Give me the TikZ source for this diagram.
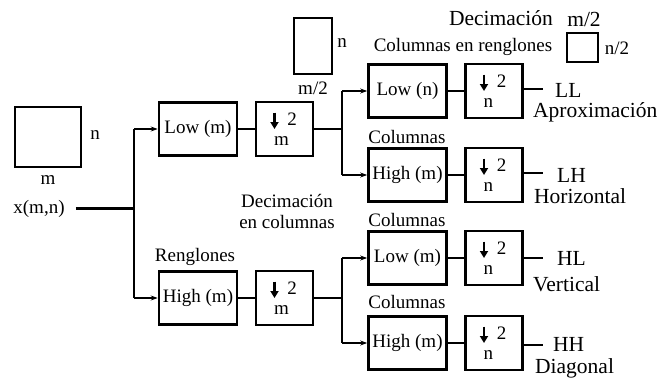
\documentclass[tikz,border=0pt]{standalone}
\usepackage{fontspec}
\setmainfont{Liberation Serif}
\usetikzlibrary{arrows.meta}
\newcommand\lbl{\fontsize{19}{21}\selectfont}
\newcommand\biglbl{\fontsize{21.5}{23}\selectfont}
\tikzset{
  filt/.style={draw, line width=2.6pt, minimum width=78pt, minimum height=53pt, inner sep=0pt, font=\lbl},
  dsbox/.style={draw, line width=2.6pt, minimum width=57pt, minimum height=54pt, inner sep=0pt},
  wire/.style={line width=2.4pt},
  feed/.style={wire, -{Stealth[length=7pt,width=5pt]}},
  txt/.style={inner sep=0pt, font=\lbl},
  big/.style={inner sep=0pt, font=\biglbl, anchor=base west},
  sketch/.style={draw, line width=2.6pt},
  downarrow/.style={line width=2.8pt, -{Triangle[length=7pt,width=8pt]}},
}
% decimation-by-2 block: name, x, y, dimension letter
\newcommand\decim[4]{%
  \node[dsbox] (#1) at (#2,#3) {};
  \draw[downarrow]
    ([xshift=-10pt,yshift=16.5pt]#1.center) -- ([xshift=-10pt,yshift=0pt]#1.center);
  \node[txt] (#1two) at ([xshift=7.5pt,yshift=10pt]#1.center) {2};
  \node[txt, anchor=west] (#1dim) at ([xshift=-10.5pt,yshift=-12.5pt]#1.center) {#4};
}
\begin{document}
\begin{tikzpicture}[x=1pt,y=-1pt]
\useasboundingbox (0,0) rectangle (670,380);

% input image sketch
\draw[sketch] (15,107) rectangle (81,167);
\node[txt] (inN) at (95,135) {n};
\node[txt] (inM) at (48,180) {m};
\node[txt] (x) at (39,208.5) {x(m,n)};

% row filters
\node[filt] (lowm) at (198,129) {Low (m)};
\node[filt] (highm) at (198,298) {High (m)};
\decim{dm1}{284.5}{129}{m}
\decim{dm2}{284.5}{298}{m}
\node[txt] (reng) at (195,257) {Renglones};
\node[txt] (dec1) at (287,201) {Decimación};
\node[txt] (dec2) at (287,222) {en columnas};

% half-width image sketch
\draw[sketch] (294,18) rectangle (332,74);
\node[txt] (midN) at (342,43) {n};
\node[txt] (midM) at (313,88) {m/2};

% column filters
\node[filt] (lown) at (407.5,91) {Low (n)};
\node[filt] (hm2) at (407.5,175) {High (m)};
\node[filt] (lm3) at (407.5,258) {Low (m)};
\node[filt] (hm4) at (407.5,343) {High (m)};
\decim{dn1}{494}{91}{n}
\decim{dn2}{494}{175}{n}
\decim{dn3}{494}{258}{n}
\decim{dn4}{494}{343}{n}
\node[txt] (colren) at (463,47) {Columnas en renglones};
\node[txt] (col2) at (407,137) {Columnas};
\node[txt] (col3) at (407,220) {Columnas};
\node[txt] (col4) at (407,302) {Columnas};

% quarter image sketch
\node[big, anchor=center] (decT) at (501,18) {Decimación};
\node[big, anchor=center] (decM) at (584,19) {m/2};
\draw[sketch] (567,33) rectangle (598,62);
\node[txt] (qN) at (617,48) {n/2};

% branch points
\coordinate (s1) at (134,208.5);
\coordinate (s2) at (342,129);
\coordinate (s3) at (342,298);
\draw[wire] ([xshift=11pt]x.east) -- (s1);
\draw[wire] (s1 |- lowm) -- (s1 |- highm);
\draw[feed] (s1 |- lowm) -- (lowm.west);
\draw[feed] (s1 |- highm) -- (highm.west);
\draw[wire] (lowm) -- (dm1);
\draw[wire] (highm) -- (dm2);
\draw[wire] (dm1.east) -- (s2);
\draw[wire] (dm2.east) -- (s3);
\draw[wire] (s2 |- lown) -- (s2 |- hm2);
\draw[wire] (s3 |- lm3) -- (s3 |- hm4);
\draw[feed] (s2 |- lown) -- (lown.west);
\draw[feed] (s2 |- hm2) -- (hm2.west);
\draw[feed] (s3 |- lm3) -- (lm3.west);
\draw[feed] (s3 |- hm4) -- (hm4.west);
\draw[wire] (lown) -- (dn1);
\draw[wire] (hm2) -- (dn2);
\draw[wire] (lm3) -- (dn3);
\draw[wire] (hm4) -- (dn4);

% outputs
\coordinate (o1) at (543,89);
\coordinate (o2) at (543,173);
\coordinate (o3) at (543,258);
\coordinate (o4) at (543,345);
\draw[wire] (dn1.east |- o1) -- (o1);
\draw[wire] (dn2.east |- o2) -- (o2);
\draw[wire] (dn3.east |- o3) -- (o3);
\draw[wire] (dn4.east |- o4) -- (o4);
\node[big] (ll) at (555,97) {LL};
\node[big] (apx) at (533,117.5) {Aproximación};
\node[big] (lh) at (557,182) {LH};
\node[big] (hor) at (534,203) {Horizontal};
\node[big] (hl) at (557,265) {HL};
\node[big] (ver) at (533,291) {Vertical};
\node[big] (hh) at (553,351) {HH};
\node[big] (dia) at (535,373) {Diagonal};
\end{tikzpicture}
\end{document}
